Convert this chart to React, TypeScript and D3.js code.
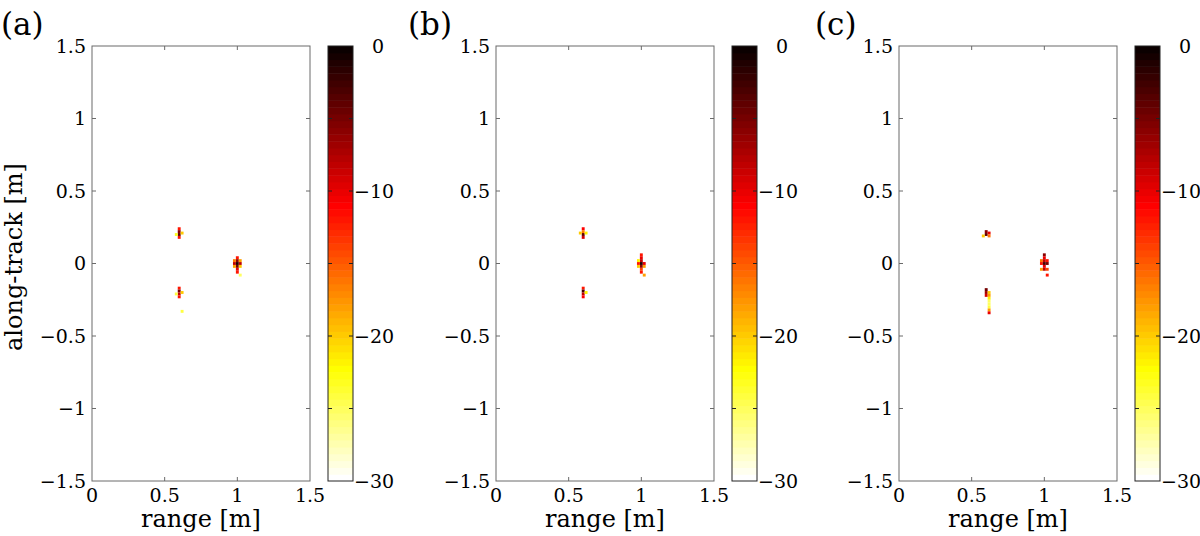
import React from "react";
import * as d3 from "d3";

// ---- data: [range (m), along-track (m), level (dB)] ----
const panelA: [number, number, number][] = [
  [0.6, 0.24, -12], [0.6, 0.22, -6], [0.6, 0.2, -4], [0.62, 0.21, -20], [0.6, 0.18, -12], [0.58, 0.2, -23],
  [1.0, 0.04, -12], [1.0, 0.02, -6], [1.0, 0.0, -1], [0.98, 0.0, -8], [1.02, 0.0, -8], [1.0, -0.02, -5],
  [0.98, 0.02, -16], [1.02, 0.02, -18], [0.98, -0.02, -18], [1.02, -0.02, -20], [1.0, -0.04, -10],
  [1.0, -0.06, -12], [1.02, -0.08, -25],
  [0.6, -0.17, -12], [0.6, -0.19, -5], [0.6, -0.21, -8], [0.62, -0.2, -20], [0.6, -0.23, -12],
  [0.58, -0.21, -24], [0.62, -0.33, -24],
];
const panelB: [number, number, number][] = [
  [0.6, 0.24, -11], [0.6, 0.22, -16], [0.6, 0.2, -4], [0.6, 0.18, -9], [0.62, 0.21, -22], [0.58, 0.21, -20],
  [1.0, 0.06, -12], [1.0, 0.04, -10], [1.0, 0.02, -8], [1.0, 0.0, -1], [0.98, 0.0, -12], [1.02, 0.0, -10],
  [1.0, -0.02, -6], [0.98, -0.02, -20], [1.02, -0.02, -18], [0.98, 0.02, -22], [1.0, -0.04, -14],
  [1.0, -0.06, -12], [1.02, -0.08, -18],
  [0.6, -0.17, -12], [0.6, -0.19, -3], [0.6, -0.21, -8], [0.62, -0.2, -22], [0.6, -0.23, -11],
];
const panelC: [number, number, number][] = [
  [0.6, 0.22, -6], [0.6, 0.2, -4], [0.62, 0.21, -10], [0.58, 0.19, -20], [0.62, 0.19, -16],
  [1.0, 0.06, -6], [1.0, 0.04, -10], [0.98, 0.02, -16], [1.0, 0.02, -8], [1.02, 0.02, -12],
  [0.98, 0.0, -12], [1.0, 0.0, -3], [1.02, 0.0, -5], [1.0, -0.02, -10], [0.98, -0.04, -18],
  [1.0, -0.04, -8], [1.02, -0.04, -14], [1.02, -0.08, -12],
  [0.6, -0.18, -5], [0.6, -0.2, -7], [0.6, -0.22, -9], [0.62, -0.2, -20], [0.62, -0.22, -18],
  [0.62, -0.24, -22], [0.62, -0.26, -25], [0.62, -0.28, -25], [0.62, -0.3, -24], [0.62, -0.32, -18],
  [0.62, -0.34, -10],
];
const panelLabels = ["(a)", "(b)", "(c)"];
const xTicks = [0, 0.5, 1, 1.5];
const xTickLabels = ["0", "0.5", "1", "1.5"];
const yTicks = [-1.5, -1, -0.5, 0, 0.5, 1, 1.5];
const yTickLabels = ["\u22121.5", "\u22121", "\u22120.5", "0", "0.5", "1", "1.5"];
const cbLabelValues = [0, -10, -20, -30];
const cbLabels = ["0", "\u221210", "\u221220", "\u221230"];
const cbMinorTicks = [-5, -10, -15, -20, -25];
const xLabel = "range [m]";
const yLabel = "along-track [m]";
const cellSize = 0.02;

// MATLAB hot(64), flipped
const N = 64;
function hot(k: number) {
  // k: 1..64
  const n1 = 24, n2 = 24;
  const r = k <= n1 ? k / n1 : 1;
  const g = k <= n1 ? 0 : k <= n1 + n2 ? (k - n1) / n2 : 1;
  const b = k <= n1 + n2 ? 0 : (k - n1 - n2) / (N - n1 - n2);
  return d3.rgb(r * 255, g * 255, b * 255).toString();
}
const cmap = d3.range(N).map((j) => hot(N - j)); // j=0 -> lowest value (-30) white
const colorOf = (v: number) => {
  const j = Math.max(0, Math.min(N - 1, Math.floor(((v + 30) / 30) * N)));
  return cmap[j];
};

const FONT = "DejaVu Serif";
const lefts = [92, 496, 899];
const labelX = [1, 408, 815];
const PW = 218;
const TOP = 46;
const BOTTOM = 481;
const CB_GAP = 18;
const CB_W = 25;
const AXIS_COLOR = "#6a6a6a";

function Panel({ idx, data }: { idx: number; data: [number, number, number][] }) {
  const L = lefts[idx];
  const x = d3.scaleLinear().domain([0, 1.5]).range([L, L + PW]);
  const y = d3.scaleLinear().domain([-1.5, 1.5]).range([BOTTOM, TOP]);
  const cbX = L + PW + CB_GAP;
  const cy = d3.scaleLinear().domain([-30, 0]).range([BOTTOM, TOP]);
  const cw = x(cellSize) - x(0);
  const ch = y(0) - y(cellSize);
  const tl = 4;
  return (
    <g>
      <text x={labelX[idx]} y={35} fontFamily={FONT} fontSize={31}>{panelLabels[idx]}</text>
      {/* cells */}
      {data.map(([r, a, v], i) => (
        <rect key={i} x={x(r - cellSize / 2)} y={y(a + cellSize / 2)} width={cw} height={ch} fill={colorOf(v)} />
      ))}
      {/* frame */}
      <rect x={L} y={TOP} width={PW} height={BOTTOM - TOP} fill="none" stroke={AXIS_COLOR} strokeWidth={1} />
      {xTicks.filter((t) => t > 0 && t < 1.5).map((t) => (
        <g key={"xt" + t}>
          <line x1={x(t)} x2={x(t)} y1={BOTTOM} y2={BOTTOM - tl} stroke={AXIS_COLOR} />
          <line x1={x(t)} x2={x(t)} y1={TOP} y2={TOP + tl} stroke={AXIS_COLOR} />
        </g>
      ))}
      {yTicks.filter((t) => t > -1.5 && t < 1.5).map((t) => (
        <g key={"yt" + t}>
          <line x1={L} x2={L + tl} y1={y(t)} y2={y(t)} stroke={AXIS_COLOR} />
          <line x1={L + PW} x2={L + PW - tl} y1={y(t)} y2={y(t)} stroke={AXIS_COLOR} />
        </g>
      ))}
      {xTicks.map((t, i) => (
        <text key={"xl" + t} x={x(t)} y={502} textAnchor="middle" fontFamily={FONT} fontSize={19}>{xTickLabels[i]}</text>
      ))}
      {yTicks.map((t, i) => (
        <text key={"yl" + t} x={L - 6} y={y(t)} dy="0.36em" textAnchor="end" fontFamily={FONT} fontSize={19}>{yTickLabels[i]}</text>
      ))}
      <text x={(x(0) + x(1.5)) / 2} y={527} textAnchor="middle" fontFamily={FONT} fontSize={24}>{xLabel}</text>
      {idx === 0 && (
        <text transform={`translate(22,257) rotate(-90)`} textAnchor="middle" fontFamily={FONT} fontSize={24}>{yLabel}</text>
      )}
      {/* colorbar */}
      {cmap.map((c, j) => {
        const v0 = -30 + (j * 30) / N;
        const v1 = -30 + ((j + 1) * 30) / N;
        return <rect key={"cb" + j} x={cbX} y={cy(v1)} width={CB_W} height={cy(v0) - cy(v1) + 0.5} fill={c} />;
      })}
      <rect x={cbX} y={TOP} width={CB_W} height={BOTTOM - TOP} fill="none" stroke="#222" strokeWidth={1} />
      {cbMinorTicks.map((t) => (
        <g key={"cbt" + t}>
          <line x1={cbX} x2={cbX + tl} y1={cy(t)} y2={cy(t)} stroke="#222" />
          <line x1={cbX + CB_W} x2={cbX + CB_W - tl} y1={cy(t)} y2={cy(t)} stroke="#222" />
        </g>
      ))}
      {cbLabelValues.map((v, i) => (
        <text key={"cbl" + v} x={cbX + CB_W + (v === 0 ? 19 : 1)} y={cy(v)} dy="0.36em" fontFamily={FONT} fontSize={19}>{cbLabels[i]}</text>
      ))}
    </g>
  );
}

export default function App() {
  const panels = [panelA, panelB, panelC];
  return (
    <svg width={1200} height={536} style={{ position: "absolute", left: 0, top: 0, background: "#fff" }}>
      <rect x={0} y={0} width={1200} height={536} fill="#fff" />
      {panels.map((p, i) => (
        <Panel key={i} idx={i} data={p} />
      ))}
    </svg>
  );
}
